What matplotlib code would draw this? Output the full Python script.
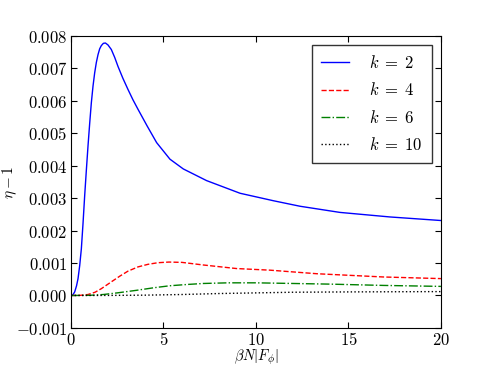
import numpy as np
import matplotlib
matplotlib.use('Agg')
import matplotlib.pyplot as plt
from matplotlib.ticker import FuncFormatter

# valores
x_k2 = [0, 0.1, 0.2, 0.3, 0.38, 0.47, 0.56, 0.65, 0.74, 0.83, 0.92, 1.01, 1.1, 1.19, 1.28,
        1.37, 1.46, 1.55, 1.64, 1.75, 1.86, 2.0, 2.18, 2.36, 2.54, 2.8, 3.08, 3.35, 3.62,
        4.12, 4.63, 5.35, 6.07, 7.33, 9.14, 10.94, 12.38, 14.54, 17.24, 20]
y_k2 = [0, 0.00002, 0.00011, 0.00030, 0.00052, 0.00092, 0.00144, 0.00222, 0.00308, 0.00386,
        0.00461, 0.00530, 0.00594, 0.00645, 0.00686, 0.00718, 0.00742, 0.00760, 0.00770,
        0.00777, 0.00778, 0.00772, 0.00758, 0.00734, 0.00706, 0.00670, 0.00635, 0.00603,
        0.00574, 0.00522, 0.00471, 0.00420, 0.00390, 0.00354, 0.00315, 0.00292, 0.00275,
        0.00256, 0.00242, 0.00231]

x_k4 = [0, 0.5, 0.92, 1.3, 1.64, 2.18, 2.65, 3.08, 3.62, 4.16, 4.7, 5.3, 6.0, 7.15, 8.95,
        10.76, 13.3, 16.9, 20]
y_k4 = [0, 0.000005, 0.00003, 0.0001, 0.00021, 0.00042, 0.0006, 0.00075, 0.00088, 0.00096,
        0.00101, 0.00103, 0.00102, 0.00094, 0.00083, 0.00078, 0.00067, 0.00057, 0.00052]

x_k6 = [0, 1, 1.75, 2.5, 3.55, 4.5, 5.35, 6.3, 7.15, 8.5, 10, 12, 14, 16.9, 20]
y_k6 = [0, 0.000005, 0.00003, 0.00008, 0.00016, 0.00024, 0.0003, 0.00034, 0.00037, 0.00039,
        0.00039, 0.00037, 0.00035, 0.00031, 0.00028]

x_k10 = [0, 2, 4, 6, 8, 10, 12, 15, 20]
y_k10 = [0, 0.000002, 0.00001, 0.00003, 0.00006, 0.00008, 0.0001, 0.00011, 0.00012]

etiquetas = [r'$k\;=\;2$', r'$k\;=\;4$', r'$k\;=\;6$', r'$k\;=\;10$']

plt.rcParams['mathtext.fontset'] = 'cm'
plt.rcParams['axes.unicode_minus'] = True

fig = plt.figure(figsize=(4.91, 3.66), dpi=100)
ax = fig.add_subplot(111)
fig.subplots_adjust(left=0.1446, right=0.898, bottom=0.104, top=0.902)

ax.plot(x_k2, y_k2, color='blue', linestyle='-', linewidth=1.0, label=etiquetas[0])
ax.plot(x_k4, y_k4, color='red', linestyle='--', linewidth=1.0, label=etiquetas[1])
ax.plot(x_k6, y_k6, color='green', linestyle='-.', linewidth=1.0, label=etiquetas[2])
ax.plot(x_k10, y_k10, color='black', linestyle=':', linewidth=1.0, label=etiquetas[3])

ax.set_xlim(0, 20)
ax.set_ylim(-0.001, 0.008)
ax.set_xticks([0, 5, 10, 15, 20])
ax.set_yticks(np.arange(-0.001, 0.0081, 0.001))
ax.xaxis.set_major_formatter(FuncFormatter(lambda v, p: r'$%d$' % round(v)))
ax.yaxis.set_major_formatter(FuncFormatter(lambda v, p: r'$%.3f$' % (0.0 if abs(v) < 1e-9 else v)))
ax.tick_params(direction='in', top=True, right=True, labelsize=12, length=4, pad=2.5)

ax.set_xlabel(r'$\beta N|F_\phi|$', fontsize=10.5)
ax.set_ylabel(r'$\eta - 1$', fontsize=11)
ax.xaxis.set_label_coords(0.5, -0.068)
ax.yaxis.set_label_coords(-0.14, 0.5)

leg = ax.legend(loc='upper right', fontsize=12, fancybox=False, handlelength=1.7,
                labelspacing=0.55, borderpad=0.55, handletextpad=1.2, borderaxespad=0.55)
leg.get_frame().set_edgecolor('black')
leg.get_frame().set_linewidth(1.0)

plt.savefig('out.png', dpi=100)
